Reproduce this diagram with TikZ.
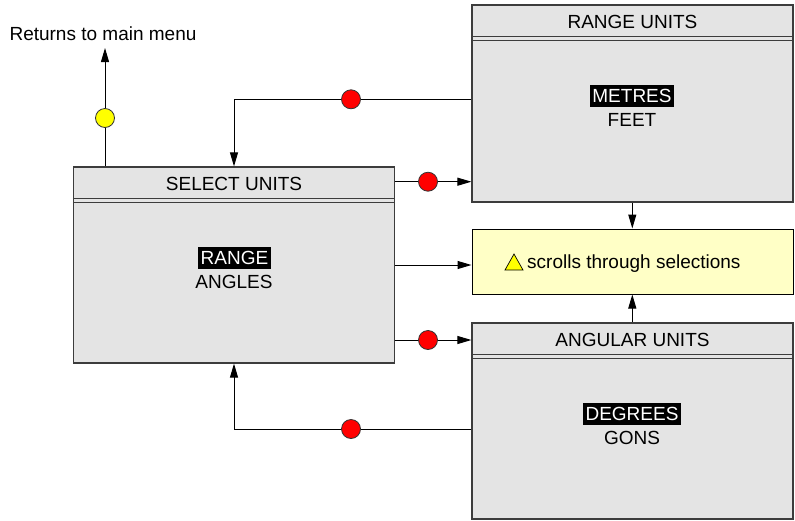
\documentclass[tikz,border=0pt]{standalone}
\usepackage{fontspec}
\setmainfont{Liberation Sans}
\usetikzlibrary{arrows.meta,calc}
\definecolor{panelfill}{RGB}{228,228,228}
\definecolor{paneledge}{RGB}{60,60,60}
\definecolor{notefill}{RGB}{255,255,198}
\definecolor{dotred}{RGB}{255,0,0}
\definecolor{dotyellow}{RGB}{255,255,0}
\begin{document}
\begin{tikzpicture}[x=1pt,y=-1pt,
  font=\fontsize{19}{22}\selectfont,
  panel/.style={draw=paneledge, line width=1.2pt, fill=panelfill,
                minimum width=321pt, inner sep=0pt},
  note/.style={draw=black, line width=1pt, fill=notefill,
               minimum width=321pt, minimum height=65pt, inner sep=0pt},
  caption/.style={anchor=base, inner sep=0pt},
  chosen/.style={anchor=base, fill=black, text=white, inner xsep=2.5pt,
                 inner ysep=2.5pt, text height=15pt, text depth=2pt},
  link/.style={draw=black, line width=1pt},
  arr/.style={link, -{Triangle[length=14pt,width=8pt]}},
  dot/.style={circle, draw=black!80, line width=0.8pt, minimum size=19pt,
              inner sep=0pt},
]
\useasboundingbox (0,0) rectangle (795,520);

% menu panels
\node[panel, minimum height=196pt] (sel)   at (234,265)   {};
\node[panel, minimum height=197pt] (range) at (632.5,103.5) {};
\node[panel, minimum height=196pt] (ang)   at (632.5,421) {};
\node[note] (hint) at (632.5,261.5) {};

% double rule under each panel title
\foreach \p in {sel,range,ang} {
  \draw[paneledge, line width=1.2pt]
    ($(\p.north west)+(0,32)$) -- ($(\p.north east)+(0,32)$)
    ($(\p.north west)+(0,36)$) -- ($(\p.north east)+(0,36)$);
}

% panel titles
\node[caption] (seltitle)   at ($(sel.north)+(0,24.5)$)   {SELECT UNITS};
\node[caption] (rangetitle) at ($(range.north)+(0,24.3)$) {RANGE UNITS};
\node[caption] (angtitle)   at ($(ang.north)+(0,23.9)$)   {ANGULAR UNITS};

% menu entries, the current one highlighted
\node[chosen]  (optrange)  at (234.5,264) {RANGE};
\node[caption] (optangles) at (234,288)   {ANGLES};
\node[chosen]  (optmetres) at (632,102)   {METRES};
\node[caption] (optfeet)   at (632,126)   {FEET};
\node[chosen]  (optdeg)    at (632,420.7) {DEGREES};
\node[caption] (optgons)   at (632,444.5) {GONS};

% hint text with arrow-key symbol
\draw[fill=dotyellow, line width=0.7pt] (505,270) -- (514,254) -- (523,270) -- cycle;
\node[caption, anchor=base west] (hinttext) at (527,268.3) {scrolls through selections};

% exit label
\node[caption] (exitlabel) at (103,40.7) {Returns to main menu};
\coordinate (exit) at (105,48);

% connectors
\coordinate (rlink) at (234,99.3);
\coordinate (alink) at (234,429);
\draw[arr] (sel.north -| exit) -- (exit);
\draw[arr] (rlink -| range.west) -- (rlink) -- (rlink |- sel.north);
\draw[arr] (alink -| ang.west) -- (alink) -- (alink |- sel.south);
\draw[arr] (sel.east |- 0,181.7) -- (range.west |- 0,181.7);
\draw[arr] (sel.east |- 0,265) -- (hint.west |- 0,265);
\draw[arr] (sel.east |- 0,340) -- (ang.west |- 0,340);
\draw[arr] (range.south -| 632.3,0) -- (hint.north -| 632.3,0);
\draw[arr] (ang.north -| 632.3,0) -- (hint.south -| 632.3,0);

% key-press markers
\node[dot, fill=dotyellow] (kexit) at (105,118)  {};
\node[dot, fill=dotred]    (kr1)   at (351,99.3) {};
\node[dot, fill=dotred]    (kr2)   at (428,181.7) {};
\node[dot, fill=dotred]    (ka1)   at (428,340)  {};
\node[dot, fill=dotred]    (ka2)   at (351,429)  {};
\end{tikzpicture}
\end{document}
